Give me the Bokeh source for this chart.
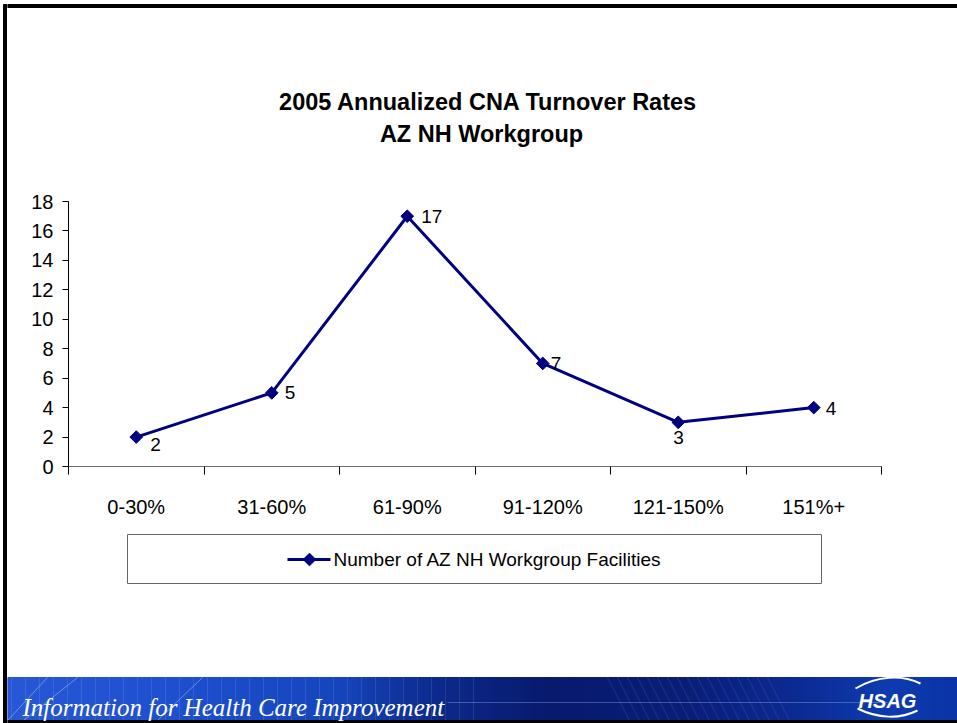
import math
from bokeh.plotting import figure
from bokeh.models import Range1d, LinearAxis, FixedTicker, ColumnDataSource
from bokeh.layouts import row, column
from bokeh.embed import file_html
from bokeh.resources import INLINE
from bokeh.core.properties import value

# ---------------- data ----------------
categories = ["0-30%", "31-60%", "61-90%", "91-120%", "121-150%", "151%+"]
facilities = [2, 5, 17, 7, 3, 4]
y_ticks = [0, 2, 4, 6, 8, 10, 12, 14, 16, 18]
title_lines = ["2005 Annualized CNA Turnover Rates", "AZ NH Workgroup"]
series_name = "Number of AZ  NH Workgroup Facilities"
footer_text = "Information for Health Care Improvement"
logo_text = "HSAG"

# label placement (pixels, style only)
label_dx = [14, 13, 14, 8, -5, 12]
label_dy = [7, 0, 0, 0, 15, 1]

FONT = "Liberation Sans"
SERIF = "Liberation Serif"
NAVY = "#000080"

BAR = 7
W = 950
TOP_H = 181
CHART_H = 339
BOT_H = 203


def deco(h, w=W):
    f = figure(width=w, height=h, x_range=Range1d(0, w), y_range=Range1d(h, 0),
               output_backend="svg", toolbar_location=None,
               x_axis_location=None, y_axis_location=None, min_border=0,
               outline_line_color=None, background_fill_color="white",
               border_fill_color="white", frame_align=False)
    f.xgrid.grid_line_color = None
    f.ygrid.grid_line_color = None
    return f


# ---------------- left slide border ----------------
bar = deco(TOP_H + CHART_H + BOT_H, w=BAR)
bar.quad(left=3, right=BAR, top=4, bottom=TOP_H + CHART_H + BOT_H, color="black")

# ---------------- top: border + title ----------------
top = deco(TOP_H)
top.quad(left=0, right=W, top=4, bottom=7, color="black")
top.text(x=[481], y=[101], text=[title_lines[0]], text_font=value(FONT),
         text_font_style="bold", text_font_size="23.5px", text_color="black",
         text_align="center", text_baseline="middle")
top.text(x=[474], y=[133], text=[title_lines[1]], text_font=value(FONT),
         text_font_style="bold", text_font_size="23.5px", text_color="black",
         text_align="center", text_baseline="middle")

# ---------------- chart ----------------
n = len(categories)
idx = list(range(n))
chart = figure(width=W, height=CHART_H,
               x_range=Range1d(-0.5, n - 0.5),
               y_range=Range1d(y_ticks[0], y_ticks[-1]),
               output_backend="svg", toolbar_location=None,
               x_axis_location=None, y_axis_location=None,
               min_border_left=61, min_border_right=W - 874,
               min_border_top=20, min_border_bottom=49,
               outline_line_color=None, background_fill_color="white",
               border_fill_color="white", frame_align=False)
chart.xgrid.grid_line_color = None
chart.ygrid.grid_line_color = None

yaxis = LinearAxis(ticker=FixedTicker(ticks=y_ticks, minor_ticks=[]))
yaxis.axis_line_color = "black"
yaxis.major_tick_line_color = "black"
yaxis.major_tick_out = 6
yaxis.major_tick_in = 0
yaxis.major_label_standoff = 9
yaxis.major_label_text_font = FONT
yaxis.major_label_text_font_size = "20px"
yaxis.major_label_text_color = "black"
chart.add_layout(yaxis, "left")

xaxis = LinearAxis(ticker=FixedTicker(ticks=idx,
                                      minor_ticks=[i - 0.5 for i in range(n + 1)]))
xaxis.major_label_overrides = {i: c for i, c in enumerate(categories)}
xaxis.axis_line_color = "#6b6b6b"
xaxis.major_tick_line_color = None
xaxis.major_tick_out = 0
xaxis.major_tick_in = 0
xaxis.minor_tick_line_color = "black"
xaxis.minor_tick_out = 8
xaxis.minor_tick_in = 0
xaxis.major_label_standoff = 21
xaxis.major_label_text_font = FONT
xaxis.major_label_text_font_size = "20px"
xaxis.major_label_text_color = "black"
chart.add_layout(xaxis, "below")

src = ColumnDataSource(dict(x=idx, y=facilities,
                            label=[str(v) for v in facilities],
                            dx=label_dx, dy=label_dy))
chart.line(x="x", y="y", source=src, line_color=NAVY, line_width=3)
chart.scatter(x="x", y="y", source=src, marker="square", size=9,
              angle=math.pi / 4, fill_color=NAVY, line_color=NAVY)
chart.text(x="x", y="y", text="label", source=src, x_offset="dx", y_offset="dy",
           text_font=value(FONT), text_font_size="19px", text_color="black",
           text_align="left", text_baseline="middle")

# ---------------- bottom: legend + footer ----------------
bot = deco(BOT_H)
bot.quad(left=120, right=814, top=14, bottom=63, fill_color="white",
         line_color="#666666", line_width=1)
bot.line(x=[280, 323], y=[39, 39], line_color=NAVY, line_width=3)
bot.scatter(x=[302], y=[39], marker="square", size=9, angle=math.pi / 4,
            fill_color=NAVY, line_color=NAVY)
bot.text(x=[326], y=[39], text=[series_name], text_font=value(FONT),
         text_font_size="19px", text_color="black", text_align="left",
         text_baseline="middle")

# footer banner (gradient approximated by bands)
stops = [(0, (40, 88, 214)), (160, (30, 80, 208)), (330, (22, 70, 190)),
         (430, (12, 42, 140)), (540, (8, 26, 110)), (680, (10, 30, 120)),
         (800, (12, 44, 150)), (880, (14, 60, 176)), (W, (10, 52, 168))]


def col_at(x):
    for (x0, c0), (x1, c1) in zip(stops[:-1], stops[1:]):
        if x0 <= x <= x1:
            t = (x - x0) / (x1 - x0)
            return "#%02x%02x%02x" % tuple(int(a + (b - a) * t) for a, b in zip(c0, c1))
    return "#%02x%02x%02x" % stops[-1][1]


FT, FB = 157, 200
band = 5
lefts = list(range(0, W, band))
bot.quad(left=lefts, right=[l + band for l in lefts], top=FT, bottom=FB,
         color=[col_at(l + band / 2) for l in lefts])
# subtle texture
vx = list(range(4, 470, 14))
bot.segment(x0=vx, y0=FT, x1=vx, y1=FB, line_color="white", line_alpha=0.10)
vx2 = list(range(600, 770, 10))
bot.segment(x0=vx2, y0=FT, x1=[v + 22 for v in vx2], y1=FB, line_color="#8fb0ff",
            line_alpha=0.15)
bot.segment(x0=[0, 16, 150], y0=[FB, FB, FB], x1=[40, 70, 195], y1=[FT, FT, FT],
            line_color="white", line_alpha=0.35)
bot.segment(x0=[440], y0=[182], x1=[880], y1=[182], line_color="#9fc0ff", line_alpha=0.35)
bot.quad(left=0, right=W, top=FB, bottom=BOT_H, color="black")
bot.text(x=[15], y=[187], text=[footer_text], text_font=value(SERIF),
         text_font_style="italic", text_font_size="25px", text_color="white",
         text_align="left", text_baseline="alphabetic")
# logo
bot.bezier(x0=[848], y0=[168], x1=[913], y1=[163], cx0=[870], cy0=[155], cx1=[894],
           cy1=[154], line_color="white", line_width=2)
bot.bezier(x0=[850], y0=[188], x1=[910], y1=[190], cx0=[870], cy0=[198], cx1=[892],
           cy1=[199], line_color="white", line_width=2)
bot.text(x=[880], y=[180], text=[logo_text], text_font=value(FONT),
         text_font_style="bold italic", text_font_size="20px", text_color="white",
         text_align="center", text_baseline="middle")

layout = row(bar, column(top, chart, bot))
open("out.html", "w").write(file_html(layout, INLINE))
